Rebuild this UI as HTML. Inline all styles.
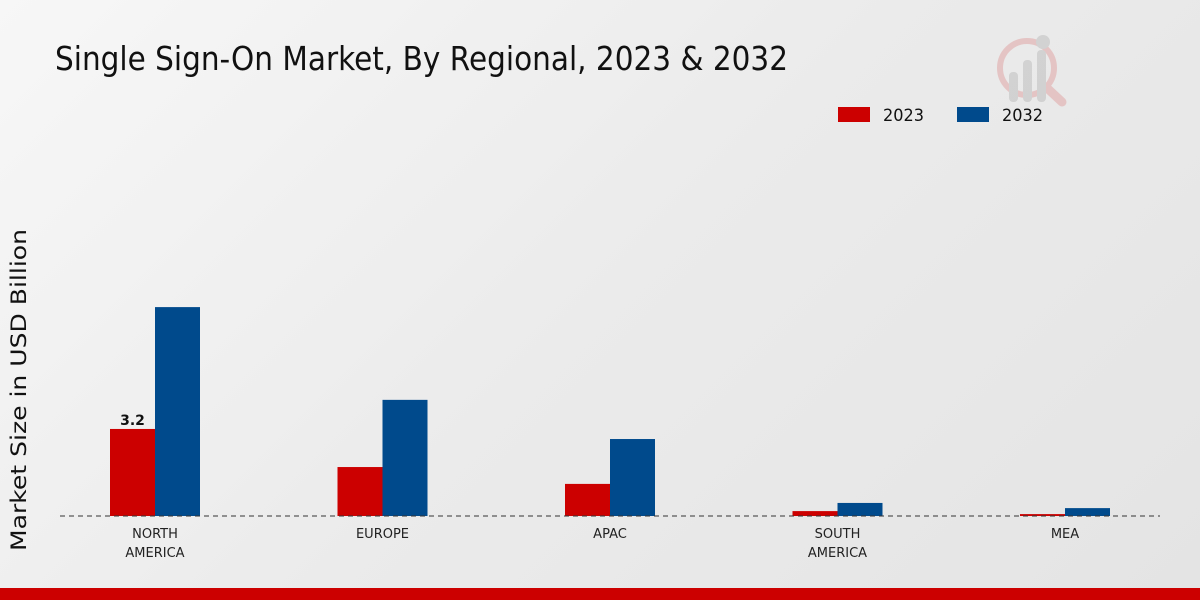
<!DOCTYPE html>
<html><head><meta charset="utf-8">
<style>
html,body{margin:0;padding:0;width:1200px;height:600px;overflow:hidden}
body{background:linear-gradient(135deg,#f7f7f7 0%,#ebebeb 50%,#e4e4e4 100%);font-family:"DejaVu Sans","Liberation Sans",sans-serif}
</style></head>
<body>
<svg id="chart" width="1200" height="600" xmlns="http://www.w3.org/2000/svg">
  <text x="55" y="70" font-size="33" fill="#111" textLength="733" lengthAdjust="spacingAndGlyphs" font-family="DejaVu Sans, sans-serif">Single Sign-On Market, By Regional, 2023 &amp; 2032</text>
  <g opacity="0.5">
    <circle cx="1027" cy="68" r="27" fill="none" stroke="#e0a0a0" stroke-width="6"/>
    <line x1="1047" y1="88" x2="1062" y2="102" stroke="#e0a0a0" stroke-width="9" stroke-linecap="round"/>
    <rect x="1009" y="72" width="9" height="30" rx="4" fill="#bbb"/>
    <rect x="1023" y="60" width="9" height="42" rx="4" fill="#bbb"/>
    <rect x="1037" y="50" width="9" height="52" rx="4" fill="#bbb"/>
    <circle cx="1043" cy="42" r="7" fill="#bbb"/>
  </g>
  <g>
    <rect x="838" y="107" width="32" height="15" fill="#cc0000"/>
    <text x="883" y="121" font-size="17" fill="#111" textLength="41" lengthAdjust="spacingAndGlyphs">2023</text>
    <rect x="957" y="107" width="32" height="15" fill="#004a8c"/>
    <text x="1002" y="121" font-size="17" fill="#111" textLength="41" lengthAdjust="spacingAndGlyphs">2032</text>
  </g>
  <text transform="translate(26,390) rotate(-90)" text-anchor="middle" font-size="21" fill="#111" textLength="322" lengthAdjust="spacingAndGlyphs">Market Size in USD Billion</text>
  <g id="bars"></g>
  <line x1="60" y1="516" x2="1160" y2="516" stroke="#333" stroke-width="1" stroke-dasharray="5,4"/>
  <g id="xlabels"></g>
  <rect x="0" y="588" width="1200" height="12" fill="#cc0000"/>
</svg>
<script>
const categories = [["NORTH","AMERICA"],["EUROPE"],["APAC"],["SOUTH","AMERICA"],["MEA"]];
const values2023 = [3.2, 1.8, 1.18, 0.18, 0.07];
const values2032 = [7.68, 4.27, 2.83, 0.48, 0.29];
const labelIndex = 0;

const ns = "http://www.w3.org/2000/svg";
const baseY = 516, pxPerUnit = 27.2, x0 = 155, step = 227.5, bw = 45;
const y = v => baseY - v * pxPerUnit;
const xc = i => x0 + i * step;
const bars = document.getElementById('bars');
const xl = document.getElementById('xlabels');
function bar(i, v, off, color, name){
  const r = document.createElementNS(ns,'rect');
  r.setAttribute('x', xc(i) + off);
  r.setAttribute('y', y(v));
  r.setAttribute('width', bw);
  r.setAttribute('height', baseY - y(v));
  r.setAttribute('fill', color);
  
  
  bars.appendChild(r);
}
categories.forEach((c, i) => {
  bar(i, values2023[i], -bw, '#cc0000', 'bar-2023-' + c.join('-').toLowerCase());
  bar(i, values2032[i], 0, '#004a8c', 'bar-2032-' + c.join('-').toLowerCase());
  c.forEach((line, k) => {
    const t = document.createElementNS(ns,'text');
    t.setAttribute('x', xc(i));
    t.setAttribute('y', 538 + k * 19);
    t.setAttribute('text-anchor', 'middle');
    t.setAttribute('font-size', '13');
    t.setAttribute('fill', '#222');
    
    
    t.textContent = line;
    xl.appendChild(t);
  });
});
const vl = document.createElementNS(ns,'text');
vl.setAttribute('x', xc(labelIndex) - bw/2);
vl.setAttribute('y', y(values2023[labelIndex]) - 4);
vl.setAttribute('text-anchor', 'middle');
vl.setAttribute('font-size', '14');
vl.setAttribute('font-weight', 'bold');
vl.setAttribute('fill', '#111');


vl.textContent = values2023[labelIndex];
bars.appendChild(vl);
</script>
</body></html>
